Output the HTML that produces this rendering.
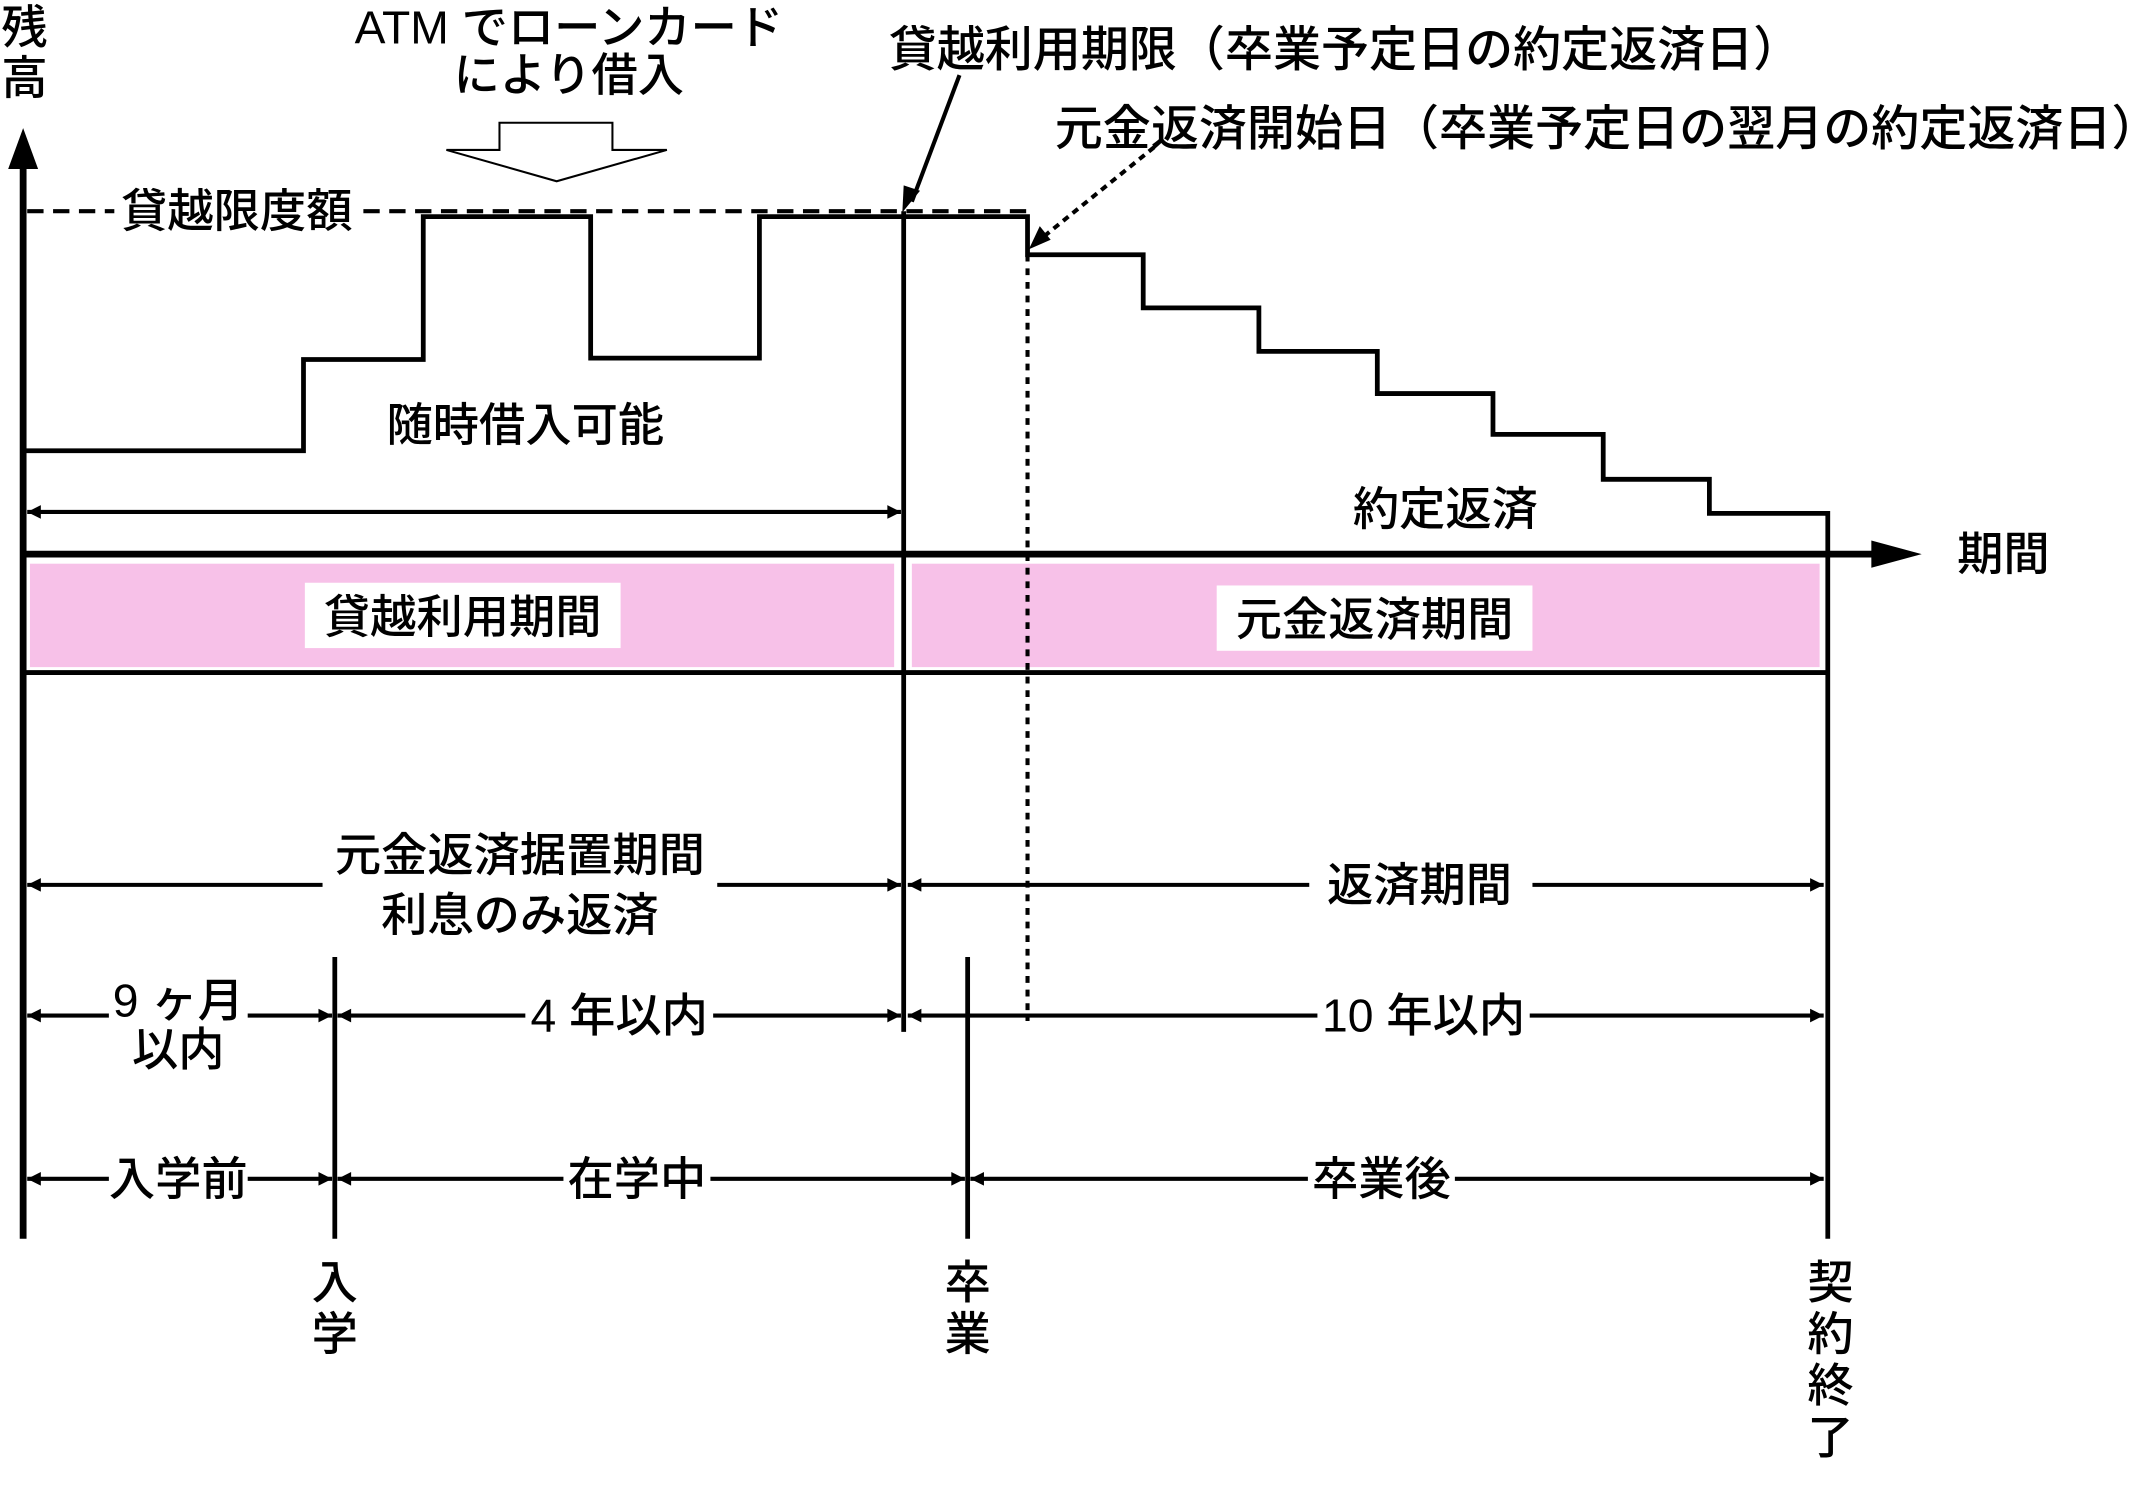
<!DOCTYPE html>
<html><head><meta charset="utf-8"><style>html,body{margin:0;padding:0;background:#fff}svg{display:block}text{font-family:"Liberation Sans","Noto Sans CJK JP",sans-serif;font-size:34px;font-weight:500;fill:#000;dominant-baseline:central}.b{font-size:35.3px}</style></head><body>
<svg width="2134" height="1503" viewBox="0 0 1568 1104" xmlns="http://www.w3.org/2000/svg">
<defs>
<marker id="a" viewBox="0 0 10 10" refX="10" refY="5" markerWidth="14" markerHeight="10" markerUnits="userSpaceOnUse" orient="auto-start-reverse"><path d="M0,0L10,5L0,10z"/></marker>
</defs>
<line x1="17" y1="118" x2="17" y2="910" stroke="#000" stroke-width="5"/>
<path d="M6,124L17,94L28,124z"/>
<line x1="17" y1="407" x2="1380" y2="407" stroke="#000" stroke-width="5"/>
<path d="M1375,397L1412,407L1375,417z"/>
<text x="18" y="20" text-anchor="middle">残</text>
<text x="18" y="57" text-anchor="middle">高</text>
<text x="1472" y="407" text-anchor="middle">期間</text>
<rect x="22" y="414" width="635" height="76" fill="#f7c1e8"/>
<rect x="670" y="414" width="667" height="76" fill="#f7c1e8"/>
<line x1="17" y1="494" x2="1343" y2="494" stroke="#000" stroke-width="3.5"/>
<rect x="224" y="428" width="232" height="48" fill="#fff"/>
<text x="340" y="453" text-anchor="middle">貸越利用期間</text>
<rect x="894" y="430" width="232" height="48" fill="#fff"/>
<text x="1010" y="455" text-anchor="middle">元金返済期間</text>
<line x1="20" y1="155" x2="755" y2="155" stroke="#000" stroke-width="3" stroke-dasharray="12,7"/>
<rect x="84" y="136" width="180" height="38" fill="#fff"/>
<text x="174" y="155" text-anchor="middle">貸越限度額</text>
<polyline fill="none" stroke="#000" stroke-width="3.5" points="17,331 223,331 223,264 311,264 311,159 434,159 434,263 558,263 558,159 755,159 755,187 840,187 840,226 925,226 925,258 1012,258 1012,289 1097,289 1097,319 1178,319 1178,352 1256,352 1256,377 1343,377 1343,910"/>
<line x1="664" y1="155" x2="664" y2="758" stroke="#000" stroke-width="3.5"/>
<line x1="755" y1="187" x2="755" y2="750" stroke="#000" stroke-width="3" stroke-dasharray="5,5"/>
<text x="386" y="312" text-anchor="middle">随時借入可能</text>
<line x1="20" y1="376" x2="662" y2="376" stroke="#000" stroke-width="3" marker-start="url(#a)" marker-end="url(#a)"/>
<text x="1062" y="374" text-anchor="middle">約定返済</text>
<text x="418" y="20" text-anchor="middle">ATM でローンカード</text>
<text x="418" y="55" text-anchor="middle">により借入</text>
<path d="M367,90H450V110H490L409,133L328,110H367z" fill="#fff" stroke="#000" stroke-width="1.5"/>
<text class="b" x="653" y="37">貸越利用期限（卒業予定日の約定返済日）</text>
<line x1="705" y1="55" x2="670" y2="148" stroke="#000" stroke-width="3"/>
<path d="M663,156L664,136L676,140z"/>
<text class="b" x="775" y="95">元金返済開始日（卒業予定日の翌月の約定返済日）</text>
<line x1="848" y1="108" x2="764" y2="176" stroke="#000" stroke-width="3" stroke-dasharray="5,4"/>
<path d="M756,183L764,166L772,176z"/>
<line x1="20" y1="650" x2="237" y2="650" stroke="#000" stroke-width="3" marker-start="url(#a)"/>
<line x1="527" y1="650" x2="662" y2="650" stroke="#000" stroke-width="3" marker-end="url(#a)"/>
<text x="382" y="628" text-anchor="middle">元金返済据置期間</text>
<text x="382" y="672" text-anchor="middle">利息のみ返済</text>
<line x1="667" y1="650" x2="962" y2="650" stroke="#000" stroke-width="3" marker-start="url(#a)"/>
<line x1="1126" y1="650" x2="1340" y2="650" stroke="#000" stroke-width="3" marker-end="url(#a)"/>
<text x="1043" y="650" text-anchor="middle">返済期間</text>
<line x1="246" y1="703" x2="246" y2="910" stroke="#000" stroke-width="3.5"/>
<line x1="711" y1="703" x2="711" y2="910" stroke="#000" stroke-width="3.5"/>
<line x1="20" y1="746" x2="244" y2="746" stroke="#000" stroke-width="3" marker-start="url(#a)" marker-end="url(#a)"/>
<rect x="80" y="716" width="102" height="36" fill="#fff"/>
<text x="131" y="735" text-anchor="middle">9 ヶ月</text>
<text x="131" y="771" text-anchor="middle">以内</text>
<line x1="248" y1="746" x2="662" y2="746" stroke="#000" stroke-width="3" marker-start="url(#a)" marker-end="url(#a)"/>
<rect x="386" y="728" width="138" height="36" fill="#fff"/>
<text x="455" y="746" text-anchor="middle">4 年以内</text>
<line x1="667" y1="746" x2="1340" y2="746" stroke="#000" stroke-width="3" marker-start="url(#a)" marker-end="url(#a)"/>
<rect x="968" y="728" width="156" height="36" fill="#fff"/>
<text x="1046" y="746" text-anchor="middle">10 年以内</text>
<line x1="20" y1="866" x2="244" y2="866" stroke="#000" stroke-width="3" marker-start="url(#a)" marker-end="url(#a)"/>
<rect x="80" y="848" width="102" height="36" fill="#fff"/>
<text x="131" y="866" text-anchor="middle">入学前</text>
<line x1="248" y1="866" x2="709" y2="866" stroke="#000" stroke-width="3" marker-start="url(#a)" marker-end="url(#a)"/>
<rect x="414" y="848" width="108" height="36" fill="#fff"/>
<text x="468" y="866" text-anchor="middle">在学中</text>
<line x1="713" y1="866" x2="1340" y2="866" stroke="#000" stroke-width="3" marker-start="url(#a)" marker-end="url(#a)"/>
<rect x="961" y="848" width="108" height="36" fill="#fff"/>
<text x="1015" y="866" text-anchor="middle">卒業後</text>
<text x="246" y="942" text-anchor="middle">入</text>
<text x="246" y="980" text-anchor="middle">学</text>
<text x="711" y="942" text-anchor="middle">卒</text>
<text x="711" y="980" text-anchor="middle">業</text>
<text x="1345" y="942" text-anchor="middle">契</text>
<text x="1345" y="980" text-anchor="middle">約</text>
<text x="1345" y="1018" text-anchor="middle">終</text>
<text x="1345" y="1056" text-anchor="middle">了</text>
</svg>
</body></html>
